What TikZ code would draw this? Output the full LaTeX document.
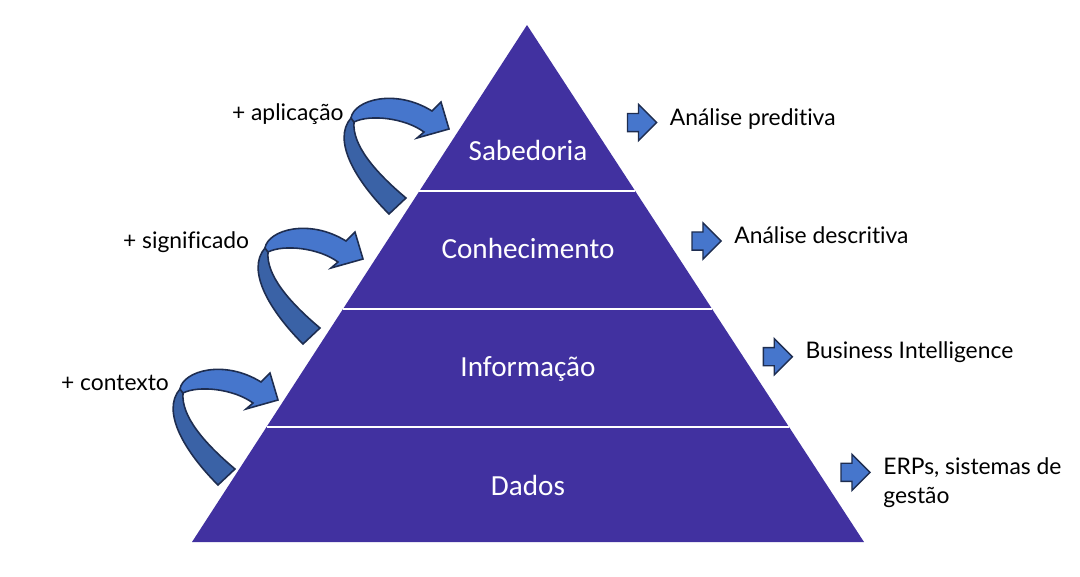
\documentclass[tikz,border=0pt]{standalone}
\usepackage{fontspec}
\setmainfont{Lato}[Ligatures=NoCommon]
\newfontfamily\layerfont{Carlito}
\usetikzlibrary{positioning,calc,shapes.arrows}
\definecolor{pyramid}{RGB}{65,49,160}
\definecolor{arrowfill}{RGB}{70,118,204}
\definecolor{arrowdark}{RGB}{58,98,166}
\definecolor{arrowline}{RGB}{30,45,80}
\tikzset{
  layer/.style={text=white, font=\layerfont\fontsize{16.6}{19}\selectfont, anchor=base, inner sep=0pt},
  lbl/.style={font=\fontsize{13}{16.5}\selectfont, anchor=base west, inner sep=0pt, align=left},
  blockarrow/.style={single arrow, draw=arrowline, fill=arrowfill, line width=0.8pt,
    minimum height=0.58cm, single arrow head extend=0.18cm, inner xsep=0pt, inner ysep=0.167cm},
  backband/.style={draw=arrowline, line width=0.9pt, fill=arrowdark},
  frontband/.style={draw=arrowline, line width=0.9pt, fill=arrowfill}
}
\begin{document}
\begin{tikzpicture}[x=0.02cm, y=-0.02cm]
    \useasboundingbox (0,0) rectangle (1080,576);

    % pyramid
    \coordinate (top) at (527,25);
    \coordinate (bl) at (192,542);
    \coordinate (br) at (864,542);
    \fill[pyramid] (top) -- (bl) -- (br) -- cycle;
    \foreach \t in {0.3211,0.5493,0.7776}
        \draw[white, line width=1.4pt] ($(top)!\t!(bl)$) -- ($(top)!\t!(br)$);

    \node[layer] (sab) at (528,160) {Sabedoria};
    \node[layer] (con) at (528,258) {Conhecimento};
    \node[layer] (inf) at (528,376) {Informação};
    \node[layer] (dad) at (528,495) {Dados};

    % curved arrows on the left
    \foreach \dx/\dy in {0/0,-86/130,-171/271} {
        \begin{scope}[shift={(\dx,\dy)}]
            \draw[backband] (389,214) .. controls (355,180) and (332,140) .. (351,118)
                -- (354,122) .. controls (352,145) and (375,172) .. (406,198) -- cycle;
            \draw[frontband] (351,118) .. controls (354,100) and (395,88) .. (432,111)
                -- (441,102) -- (449,129) -- (417,138) -- (424,132)
                .. controls (405,118) and (370,114) .. (354,122) -- cycle;
        \end{scope}
    }

    \node[lbl] (apl) at (231.7,120) {+ aplicação};
    \node[lbl] (sig) at (122.7,248) {+ significado};
    \node[lbl] (ctx) at (60.7,390) {+ contexto};

    % arrows on the right
    \node[blockarrow] (ra1) at (637.5,122.5) {};
    \node[blockarrow] (ra2) at (702,241) {};
    \node[blockarrow] (ra3) at (773.3,356.7) {};
    \node[blockarrow] (ra4) at (851,472.3) {};

    \node[lbl] (pre) at ($(ra1.east)+(12,3)$) {Análise preditiva};
    \node[lbl] (des) at ($(ra2.east)+(12,2)$) {Análise descritiva};
    \node[lbl] (bi) at ($(ra3.east)+(12,2)$) {Business Intelligence};
    \node[lbl] (erp) at ($(ra4.east)+(12,31)$) {ERPs, sistemas de\\gestão};
\end{tikzpicture}
\end{document}
